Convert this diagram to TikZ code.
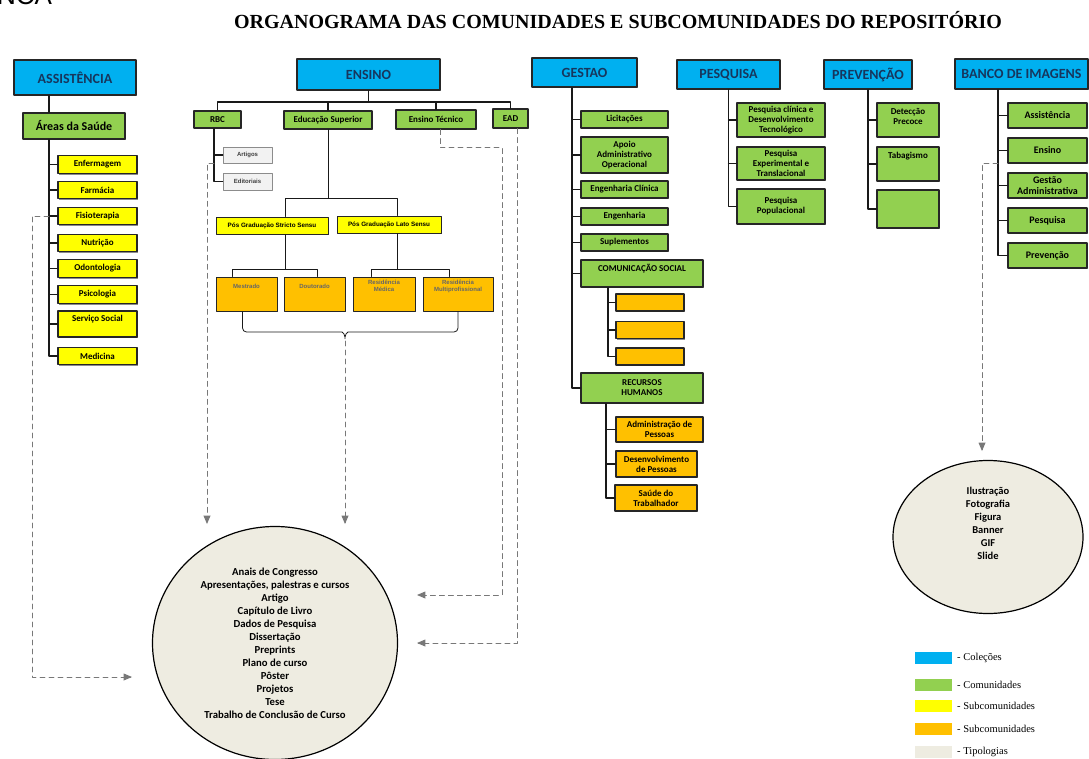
\documentclass[tikz,border=0pt]{standalone}
\usepackage{fontspec}
\setmainfont{Carlito}
\newfontfamily\serifft{Liberation Serif}
\newfontfamily\arialft{Liberation Sans}
\usetikzlibrary{arrows,calc,shapes.geometric,shadows}

\definecolor{colblue}{RGB}{0,176,240}
\definecolor{comgreen}{RGB}{146,208,80}
\definecolor{subyellow}{RGB}{255,255,0}
\definecolor{suborange}{RGB}{255,192,0}
\definecolor{tipgray}{RGB}{238,236,225}
\definecolor{colnavy}{RGB}{23,54,93}
\definecolor{refgray}{RGB}{120,120,120}

\tikzset{
  sz/.style 2 args={minimum width=#1pt,minimum height=#2pt},
  box/.style={draw=black!85,line width=1.1pt,inner sep=1pt,align=center,
    font=\bfseries\fontsize{9}{10}\selectfont,
    drop shadow={shadow xshift=1.3pt,shadow yshift=-1.3pt,opacity=0.45,fill=black}},
  colbox/.style={box,fill=colblue,text=colnavy,line width=1.4pt,font=\bfseries\fontsize{14}{16}\selectfont},
  combox/.style={box,fill=comgreen},
  subbox/.style={box,fill=subyellow},
  orbox/.style={box,fill=suborange},
  tinybox/.style={box,line width=0.9pt,font=\arialft\bfseries\fontsize{6.3}{7.5}\selectfont},
  docbox/.style={draw=black!45,line width=0.6pt,fill=black!5,inner sep=1pt,text=black!75,
    font=\arialft\bfseries\fontsize{6}{7}\selectfont},
  tipo/.style={ellipse,draw=black,line width=1.2pt,fill=tipgray,align=center,inner sep=0pt},
  textup/.style={text depth=#1},
  link/.style={line width=1.1pt,draw=black!90},
  thinlink/.style={line width=0.8pt,draw=black!90},
  refline/.style={draw=refgray,line width=0.9pt,dash pattern=on 5pt off 4pt,->},
  swatch/.style={minimum width=37pt,minimum height=12pt,inner sep=0pt},
  legtext/.style={font=\serifft\fontsize{10.5}{12}\selectfont,anchor=west,inner sep=0pt},
}

\begin{document}
\begin{tikzpicture}[line cap=round,line join=round,>=triangle 45,x=1pt,y=-1pt]
	\useasboundingbox (0,0) rectangle (1089,759);
	\node[font=\arialft\fontsize{26}{28}\selectfont,anchor=base west,inner sep=0pt] (cut) at (-3,5) {NCA};
	\node[font=\serifft\bfseries\fontsize{20}{22}\selectfont] (title) at (618,20) {ORGANOGRAMA DAS COMUNIDADES E SUBCOMUNIDADES DO REPOSITÓRIO};
	% colecoes
	\node[colbox,sz={122}{35}] (assist) at (75,77.5) {ASSISTÊNCIA};
	\node[colbox,sz={143}{31}] (ensino) at (368.5,74.5) {ENSINO};
	\node[colbox,sz={105}{29}] (gestao) at (584.5,72.5) {GESTAO};
	\node[colbox,sz={103}{29}] (pesq) at (728.5,74.5) {PESQUISA};
	\node[colbox,sz={88}{29}] (prev) at (868,74.5) {PREVENÇÃO};
	\node[colbox,sz={133}{30}] (banco) at (1021.5,74) {BANCO DE IMAGENS};
	% assistencia
	\node[combox,sz={102}{26},font=\bfseries\fontsize{12}{14}\selectfont] (areas) at (74,126) {Áreas da Saúde};
	\foreach \nm/\yy/\txt in {enf/164.5/Enfermagem,farm/190/Farmácia,fisio/216/Fisioterapia,nutri/243/Nutrição,odonto/268.5/Odontologia,psico/294.5/Psicologia,med/356/Medicina}
		\node[subbox,sz={79}{17.5}] (\nm) at (97.5,\yy) {\txt};
	\node[subbox,sz={79}{26},textup=11pt] (serv) at (97.5,324) {Serviço Social};
	\coordinate (atrunk) at (49,0);
	\draw[link] (assist.south -| atrunk) -- (areas.north -| atrunk);
	\draw[link] (areas.south -| atrunk) |- (med.west);
	\foreach \nm in {enf,farm,fisio,nutri,odonto,psico,serv}
		\draw[link] (\nm.west) -- (\nm.west -| atrunk);
	% ensino
	\begin{scope}[every node/.append style={font=\bfseries\fontsize{8.3}{9}\selectfont}]
		\node[combox,sz={47}{17}] (rbc) at (217.5,119.5) {RBC};
		\node[combox,sz={88}{18}] (edsup) at (328,120) {Educação Superior};
		\node[combox,sz={80}{19}] (enstec) at (436,119.5) {Ensino Técnico};
		\node[combox,sz={35}{19}] (ead) at (510.5,118.5) {EAD};
	\end{scope}
	\coordinate (ebar) at (0,102);
	\draw[link] (ensino.south) -- (ensino.south |- ebar);
	\draw[link] (rbc.north) -- (rbc.north |- ebar) -- (ead.north |- ebar) -- (ead.north);
	\draw[link] (edsup.north) -- (edsup.north |- ebar);
	\draw[link] (enstec.north) -- (enstec.north |- ebar);
	\node[docbox,sz={49}{16}] (art) at (247.5,155) {Artigos};
	\node[docbox,sz={49}{17}] (edit) at (247.5,181.5) {Editoriais};
	\coordinate (rtrunk) at (214,0);
	\draw[link] (rbc.south -| rtrunk) |- (edit.west);
	\draw[link] (art.west) -- (art.west -| rtrunk);
	\node[tinybox,fill=subyellow,sz={112}{17}] (stricto) at (272,225.5) {Pós Graduação Stricto Sensu};
	\node[tinybox,fill=subyellow,sz={104}{17}] (lato) at (389,224.5) {Pós Graduação Lato Sensu};
	\foreach \nm/\xx/\ww/\txt in {mest/246.5/61/Mestrado,dout/314.5/61/Doutorado,resmed/384/62/Residência\\Médica,resmulti/458/70/Residência\\Multiprofissional}
		\node[tinybox,fill=suborange,text=black!60,sz={\ww}{34},textup=16pt,font=\arialft\bfseries\fontsize{6}{7.5}\selectfont] (\nm) at (\xx,294) {\txt};
	\coordinate (sbar) at (0,198);
	\coordinate (obar) at (0,269);
	\draw[thinlink] (edsup.south) -- (edsup.south |- sbar);
	\draw[thinlink] ([xshift=13pt]stricto.north) |- ([xshift=8pt]lato.north |- sbar) -- ([xshift=8pt]lato.north);
	\draw[thinlink] ([xshift=13pt]stricto.south) -- ([xshift=13pt]stricto.south |- obar);
	\draw[thinlink] ([xshift=8pt]lato.south) -- ([xshift=8pt]lato.south |- obar);
	\draw[thinlink] ([xshift=-14pt]mest.north) |- ([xshift=3pt]dout.north |- obar) -- ([xshift=3pt]dout.north);
	\draw[thinlink] ([xshift=-13pt]resmed.north) |- ([xshift=-9pt]resmulti.north |- obar) -- ([xshift=-9pt]resmulti.north);
	\coordinate (btip) at (345,341);
	\draw[thinlink,rounded corners=4pt] ([xshift=-4pt]mest.south) |- (338,332) .. controls (343,332) and (345,335) .. (btip)
		.. controls (345,335) and (347,332) .. (352,332) -| (resmulti.south);
	% gestao
	\foreach \nm/\yy/\hh/\txt in {lic/119.5/17/Licitações,apoio/155/36/Apoio\\Administrativo\\Operacional,engcli/189.5/17/Engenharia Clínica,eng/216.5/17/Engenharia,supl/242.5/17/Suplementos}
		\node[combox,sz={87}{\hh}] (\nm) at (624.5,\yy) {\txt};
	\node[combox,sz={122}{27},textup=12pt] (comsoc) at (642,273.5) {COMUNICAÇÃO SOCIAL};
	\node[orbox,sz={68}{17}] (cs1) at (650,302.5) {};
	\node[orbox,sz={68}{17}] (cs2) at (650,330) {};
	\node[orbox,sz={68}{17}] (cs3) at (650,356.5) {};
	\node[combox,sz={122}{30}] (rh) at (642,388) {RECURSOS\\HUMANOS};
	\begin{scope}[every node/.append style={font=\bfseries\fontsize{9}{10}\selectfont}]
		\node[orbox,sz={87}{25}] (adm) at (659.5,429.5) {Administração de\\Pessoas};
		\node[orbox,sz={81}{26}] (desenv) at (656.5,464) {Desenvolvimento\\de Pessoas};
		\node[orbox,sz={82}{26}] (saude) at (656,498) {Saúde do\\Trabalhador};
	\end{scope}
	\coordinate (gtrunk) at (572,0);
	\draw[link] (gestao.south -| gtrunk) |- (rh.west);
	\foreach \nm in {lic,apoio,engcli,eng,supl,comsoc}
		\draw[link] (\nm.west) -- (\nm.west -| gtrunk);
	\coordinate (cstrunk) at (608,0);
	\draw[link] (comsoc.south -| cstrunk) |- (cs3.west);
	\draw[link] (cs1.west) -- (cs1.west -| cstrunk);
	\draw[link] (cs2.west) -- (cs2.west -| cstrunk);
	\coordinate (rhtrunk) at (606,0);
	\draw[link] (rh.south -| rhtrunk) |- (saude.west);
	\draw[link] (adm.west) -- (adm.west -| rhtrunk);
	\draw[link] (desenv.west) -- (desenv.west -| rhtrunk);
	% pesquisa e prevencao
	\begin{scope}[every node/.append style={font=\bfseries\fontsize{9.5}{10}\selectfont}]
		\node[combox,sz={88}{34}] (pq1) at (781,120) {Pesquisa clínica e\\Desenvolvimento\\Tecnológico};
		\node[combox,sz={88}{33}] (pq2) at (781,163.5) {Pesquisa\\Experimental e\\Translacional};
		\node[combox,sz={88}{35}] (pq3) at (781,206.5) {Pesquisa\\Populacional};
		\node[combox,sz={62}{34},textup=8pt] (pv1) at (908,120) {Detecção\\Precoce};
		\node[combox,sz={62}{34},textup=17pt] (pv2) at (908,164) {Tabagismo};
		\node[combox,sz={62}{38}] (pv3) at (908,209) {};
	\end{scope}
	\draw[link] (pesq.south) |- (pq3.west);
	\draw[link] (pq1.west) -- (pq1.west -| pesq.south);
	\draw[link] (pq2.west) -- (pq2.west -| pesq.south);
	\draw[link] (prev.south) |- (pv3.west);
	\draw[link] (pv1.west) -- (pv1.west -| prev.south);
	\draw[link] (pv2.west) -- (pv2.west -| prev.south);
	% banco de imagens
	\foreach \nm/\yy/\txt in {bas/115.5/Assistência,bens/150.5/Ensino,bges/185.5/Gestão\\Administrativa,bpes/220.5/Pesquisa,bprev/255.5/Prevenção}
		\node[combox,sz={79}{25},font=\bfseries\fontsize{10}{10.5}\selectfont] (\nm) at (1047.5,\yy) {\txt};
	\coordinate (btrunk) at (998,0);
	\draw[link] (banco.south -| btrunk) |- (bprev.west);
	\foreach \nm in {bas,bens,bges,bpes}
		\draw[link] (\nm.west) -- (\nm.west -| btrunk);
	% tipologias
	\node[tipo,sz={245}{233},font=\bfseries\fontsize{10.7}{13}\selectfont] (tipos) at (275,643) {Anais de Congresso\\Apresentações, palestras e cursos\\Artigo\\Capítulo de Livro\\Dados de Pesquisa\\Dissertação\\Preprints\\Plano de curso\\Pôster\\Projetos\\Tese\\Trabalho de Conclusão de Curso};
	\node[tipo,sz={190}{153},font=\bfseries\fontsize{10.5}{13}\selectfont,textup=27pt] (imgtipos) at (988,537) {Ilustração\\Fotografia\\Figura\\Banner\\GIF\\Slide};
	% ligacoes tracejadas
	\coordinate (aend) at (132,677);
	\draw[refline] (fisio.west -| atrunk) -- ++(-17,0) |- (aend);
	\coordinate (rend) at (207,524);
	\draw[refline] (art.south -| rtrunk) -- (art.south -| rend) -- (rend);
	\draw[refline] (btip) -- (btip |- rend);
	\coordinate (tend) at (417,595);
	\draw[refline] ([xshift=4pt]enstec.south) -- ++(0,18) -| ($(tend)+(85,0)$) -- (tend);
	\coordinate (eend) at (417,643);
	\draw[refline] ([xshift=7pt]ead.south) |- (eend);
	\coordinate (bend) at (982,451);
	\draw[refline] (bens.south west -| btrunk) -- (bens.south west -| bend) -- (bend);
	% legenda
	\foreach \nm/\yy/\cc/\txt in {lg1/658/colblue/Coleções,lg2/685/comgreen/Comunidades,lg3/706/subyellow/Subcomunidades,lg4/729/suborange/Subcomunidades,lg5/752/tipgray/Tipologias}{
		\node[swatch,fill=\cc] (\nm) at (933.5,\yy) {};
		\node[legtext] (\nm t) at (957,\yy) {- \txt};
	}
\end{tikzpicture}
\end{document}
